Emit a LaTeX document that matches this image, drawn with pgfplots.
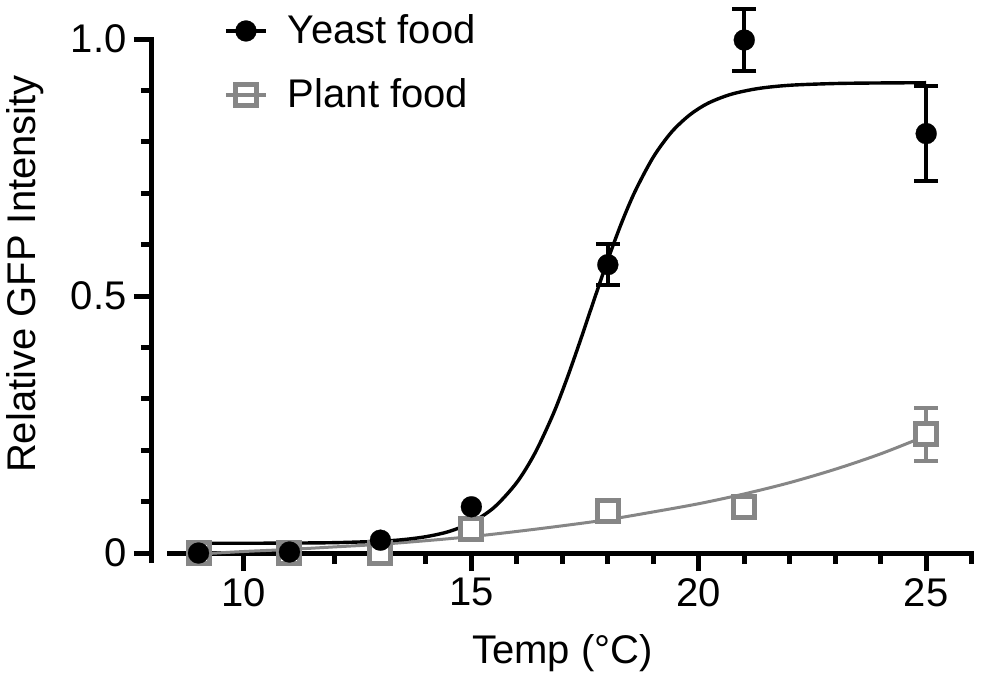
\documentclass[border=0pt]{standalone}
\usepackage{fontspec}
\setmainfont{Liberation Sans}
\usepackage{pgfplots}
\pgfplotsset{compat=1.18}
\definecolor{pgray}{RGB}{134,134,134}

\begin{document}
\begin{tikzpicture}
\begin{axis}[
  scale only axis,
  width=410.5pt, height=257pt,
  xmin=7.977, xmax=26.03,
  ymin=0, ymax=1,
  clip=false,
  axis line style={draw=none},
  font=\fontsize{20}{24}\selectfont,
  tick label style={font=\fontsize{20}{24}\selectfont},
  /pgf/number format/assume math mode=true,
  xtick={10,15,20,25},
  minor xtick={9,11,12,13,14,16,17,18,19,21,22,23,24,26},
  ytick={0,0.5,1},
  yticklabels={0,0.5,1.0},
  minor ytick={0.1,0.2,0.3,0.4,0.6,0.7,0.8,0.9},
  tick align=outside,
  xtick pos=bottom, ytick pos=left,
  major tick length=9pt, minor tick length=5.5pt,
  tick style={line width=2.5pt, black},
  yticklabel style={inner sep=0pt, xshift=-3.5pt},
  xlabel={Temp (°C)},
  xlabel style={at={(axis description cs:0.5,-0.214)}, anchor=base, inner sep=0pt},
  ylabel={Relative GFP Intensity},
  ylabel style={at={(axis description cs:-0.1413,0.5428)}, anchor=base, inner sep=0pt},
  legend style={at={(rel axis cs:0.0877,1.0467)}, anchor=north west, draw=none, fill=none,
    inner sep=0pt, outer sep=0pt, row sep=16pt, column sep=10pt, nodes={inner sep=0pt},
    font=\fontsize{20}{24}\selectfont},
  legend cell align=left,
  legend image code/.code={\draw[#1, mark=none] (0pt,0pt) -- (20pt,0pt);
    \draw[#1] plot coordinates {(10pt,0pt)};},
]
% axis lines (detached style)
\draw[line width=2.5pt] (axis cs:7.977,-0.0194) -- (axis cs:7.977,1.004);
\draw[line width=2.5pt] (axis cs:8.31,0) -- (axis cs:26.05,0);
% bounding box like the reference
\path (rel axis cs:-0.1851,-0.2529) rectangle (rel axis cs:1.0097,1.0759);

\addlegendimage{black, line width=2pt, mark=*, mark size=5.25pt, mark options={solid, line width=0.1pt}}
\addlegendentry{Yeast food}
\addlegendimage{pgray, line width=2pt, mark=square, mark size=5.25pt, mark options={solid, line width=2.5pt}}
\addlegendentry{Plant food}

% Plant food: error bars
\addplot[forget plot, only marks, mark=none,
  error bars/.cd, y dir=both, y explicit,
  error bar style={draw=pgray, line width=2pt},
  error mark options={rotate=90, mark size=6pt, line width=2pt, draw=pgray}]
  coordinates {(25,0.231) +- (0,0.051)};
% Plant food: points
\addplot[forget plot, only marks, mark=square*, mark size=5.25pt,
  mark options={draw=pgray, fill=white, line width=2.5pt}]
  coordinates {(9,0) (11,0) (13,0.0) (15,0.046) (18,0.082) (21,0.089) (25,0.231)};
% Plant food: fitted curve
\addplot[forget plot, pgray, line width=1.5pt, smooth]
  coordinates {(9,-0.002) (10,0.003) (11,0.007) (12,0.012) (13,0.017) (14,0.024)
    (15,0.032) (16,0.042) (17,0.053) (18,0.065) (19,0.080) (20,0.096) (21,0.115)
    (22,0.137) (23,0.163) (24,0.193) (25,0.228)};

% Yeast food: error bars
\addplot[forget plot, only marks, mark=none,
  error bars/.cd, y dir=both, y explicit,
  error bar style={draw=black, line width=2pt},
  error mark options={rotate=90, mark size=6pt, line width=2pt, draw=black}]
  coordinates {(18,0.561) +- (0,0.04) (21,0.998) +- (0,0.06) (25,0.816) +- (0,0.093)};
% Yeast food: points
\addplot[forget plot, only marks, mark=*, mark size=5.25pt,
  mark options={draw=black, fill=black, line width=0.1pt}]
  coordinates {(9,0) (11,0.002) (13,0.025) (15,0.09) (18,0.561) (21,0.998) (25,0.816)};
% Yeast food: fitted curve
\addplot[forget plot, black, line width=1.7pt, smooth]
  coordinates {(9,0.019) (10,0.019) (11,0.0194) (12,0.0202) (13,0.0230) (13.5,0.0261)
    (14,0.0318) (14.5,0.0417) (15,0.0592) (15.5,0.0888) (16,0.1374) (16.4,0.1947)
    (16.8,0.2705) (17.1,0.339) (17.4,0.4146) (17.7,0.4933) (18.0,0.5705) (18.3,0.6418)
    (18.6,0.7038) (19.0,0.7703) (19.4,0.8188) (19.8,0.8523) (20.2,0.8749) (20.7,0.8922)
    (21.3,0.9036) (22,0.910) (23,0.9134) (24,0.9145) (25,0.915)};
\end{axis}
\end{tikzpicture}
\end{document}
